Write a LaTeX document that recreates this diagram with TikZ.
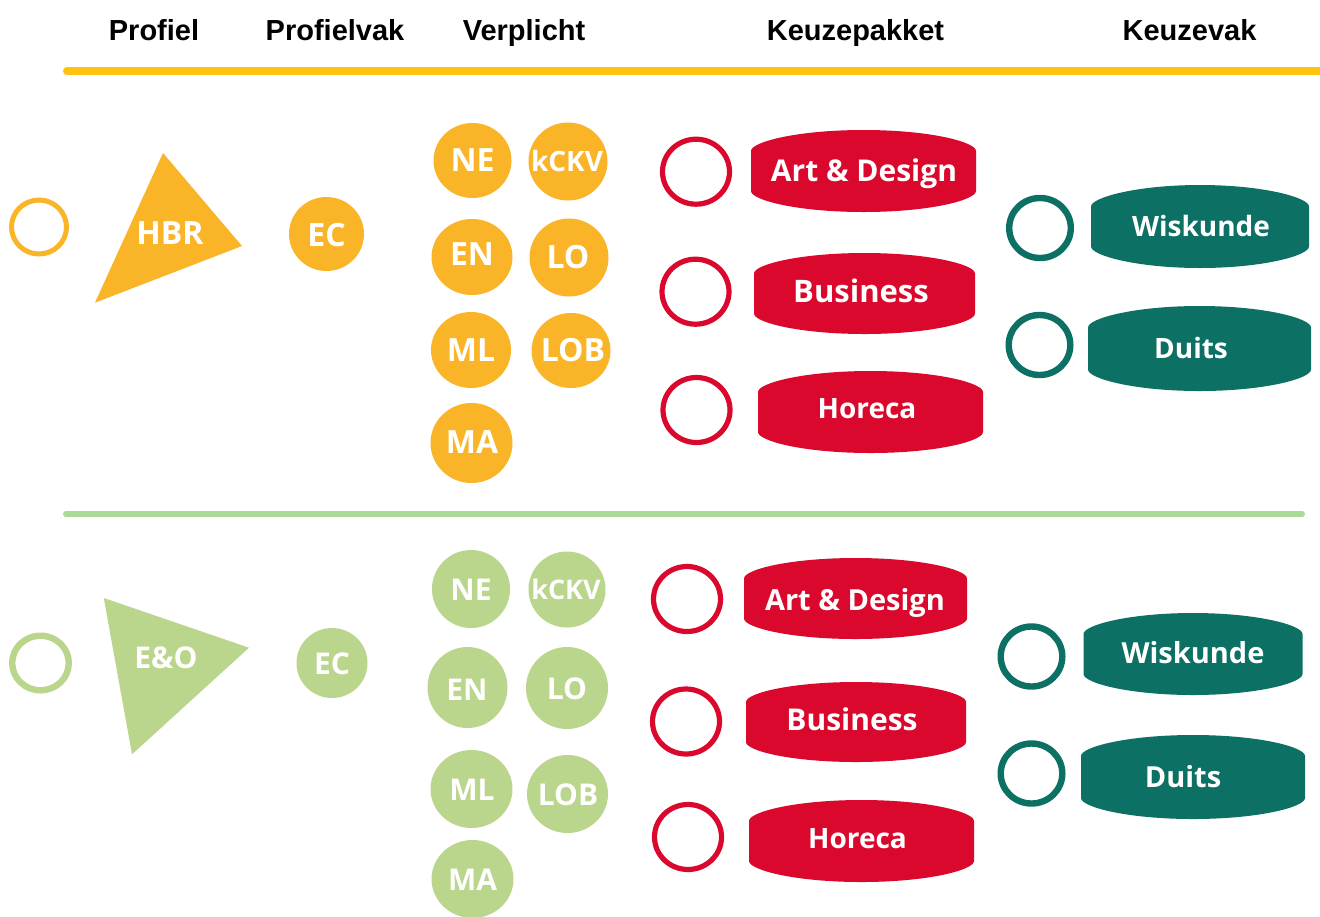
\documentclass[tikz,border=0pt]{standalone}
\usepackage{fontspec}
\setmainfont{Liberation Sans}
\newfontfamily\lblfont{Open Sans}
\usetikzlibrary{shapes.geometric}
\definecolor{goldline}{RGB}{255,194,14}
\definecolor{orng}{RGB}{250,180,40}
\definecolor{lgreen}{RGB}{186,213,140}
\definecolor{greenline}{RGB}{170,217,152}
\definecolor{rood}{RGB}{218,8,44}
\definecolor{tealx}{RGB}{12,112,100}
% barrel-shaped pill: color, cx, cy, left, right, half height at centre, half height of sides
\newcommand\pillshape[7]{%
  \fill[#1] (#4,#3+#7) -- (#4,#3-#7)
    .. controls (#4,#3-#7-9) and (#4+46,#3-#6) .. (#2,#3-#6)
    .. controls (#5-46,#3-#6) and (#5,#3-#7-9) .. (#5,#3-#7)
    -- (#5,#3+#7)
    .. controls (#5,#3+#7+9) and (#5-46,#3+#6) .. (#2,#3+#6)
    .. controls (#4+46,#3+#6) and (#4,#3+#7+9) .. (#4,#3+#7) -- cycle;}
\tikzset{
  head/.style={font=\bfseries\fontsize{14.5}{17}\selectfont, inner sep=0pt, text depth=0pt},
  lab/.style={text=white, inner sep=0pt, text depth=0pt, font=\lblfont\bfseries\fontsize{#1}{#1}\selectfont},
  lab/.default=16,
  vak/.style={ellipse, fill=#1, inner sep=0pt},
  ring/.style={ellipse, draw=#1, inner sep=0pt},
  redring/.style={ring=rood, line width=2.6pt, minimum width=33.5pt, minimum height=32.5pt},
  tealring/.style={ring=tealx, line width=3.2pt, minimum width=30.8pt, minimum height=30pt},
}
\begin{document}
\begin{tikzpicture}[x=0.5pt,y=-0.5pt]
\fill[white] (0,0) rectangle (1320,916);
\useasboundingbox (0,0) rectangle (1320,916);

% headers
\node[head] (h1) at (154,29.5) {Profiel};
\node[head] (h2) at (335,29.5) {Profielvak};
\node[head] (h3) at (524,29.5) {Verplicht};
\node[head] (h4) at (855.5,29.5) {Keuzepakket};
\node[head] (h5) at (1189.5,29.5) {Keuzevak};

% separator lines
\coordinate (ol1) at (67,71);
\coordinate (ol2) at (1330,71);
\draw[goldline, line width=4pt, line cap=round] (ol1) -- (ol2);
\coordinate (gl1) at (66,514);
\coordinate (gl2) at (1302,514);
\draw[greenline, line width=3pt, line cap=round] (gl1) -- (gl2);

% ===== top section (HBR) =====
\node[ring=orng, line width=2.5pt, minimum width=27.5pt, minimum height=27pt] (r-hbr) at (39,227) {};
\fill[orng] (163,153) -- (242,246) -- (95,302.7) -- cycle;
\node[lab=16] (t-hbr) at (170,233) {HBR};
\node[vak=orng, minimum width=37.5pt, minimum height=37pt] (t-ec) at (326.5,234) {};
\node[lab=16] (t-ec-l) at (326.5,234.5) {EC};

\node[vak=orng, minimum width=39pt, minimum height=37.5pt] (t-ne) at (472.5,160.5) {};
\node[vak=orng, minimum width=39.5pt, minimum height=39pt] (t-kckv) at (568,161.5) {};
\node[vak=orng, minimum width=40.5pt, minimum height=38pt] (t-en) at (472,257) {};
\node[vak=orng, minimum width=39.5pt, minimum height=39pt] (t-lo) at (569,257.5) {};
\node[vak=orng, minimum width=40pt, minimum height=38pt] (t-ml) at (471,350) {};
\node[vak=orng, minimum width=39.5pt, minimum height=37.5pt] (t-lob) at (571,350.5) {};
\node[vak=orng, minimum width=41pt, minimum height=40pt] (t-ma) at (471.5,443) {};
\node[lab=16] (t-ne-l) at (472.5,160) {NE};
\node[lab=14] (t-kckv-l) at (567,161) {kCKV};
\node[lab=16] (t-en-l) at (472,254) {EN};
\node[lab=16] (t-lo-l) at (568,257) {LO};
\node[lab=16] (t-ml-l) at (471,350) {ML};
\node[lab=16] (t-lob-l) at (573,350) {LOB};
\node[lab=16] (t-ma-l) at (472,442.5) {MA};

\node[redring] (t-r1) at (696,171.7) {};
\node[redring] (t-r2) at (695.5,291.7) {};
\node[redring] (t-r3) at (696.5,410) {};
\pillshape{rood}{863.5}{171}{751}{976}{41}{20}
\pillshape{rood}{864.5}{293.5}{754}{975}{40.5}{20}
\pillshape{rood}{870.5}{412}{758}{983}{41}{20}
\node[lab=15] (t-ad) at (864,170) {Art \& Design};
\node[lab=15.5] (t-bu) at (861,290.5) {Business};
\node[lab=14] (t-ho) at (867,408.5) {Horeca};

\node[tealring] (t-k1) at (1040,228) {};
\node[tealring] (t-k2) at (1039.5,345) {};
\pillshape{tealx}{1200}{226.5}{1091}{1309}{41.5}{20}
\pillshape{tealx}{1199.5}{348.5}{1088}{1311}{42.5}{21}
\node[lab=14] (t-wi) at (1201,226) {Wiskunde};
\node[lab=14] (t-du) at (1191,348) {Duits};

% ===== bottom section (E&O) =====
\node[ring=lgreen, line width=3.2pt, minimum width=28.3pt, minimum height=27.3pt] (r-eo) at (40.5,663) {};
\fill[lgreen] (103.8,598) -- (249,647.7) -- (132,754.3) -- cycle;
\node[lab=15] (b-eo) at (166,657.5) {E\&O};
\node[vak=lgreen, minimum width=35.5pt, minimum height=35pt] (b-ec) at (332,663) {};
\node[lab=15] (b-ec-l) at (332,663.5) {EC};

\node[vak=lgreen, minimum width=39pt, minimum height=39pt] (b-ne) at (471,589) {};
\node[vak=lgreen, minimum width=38.5pt, minimum height=38pt] (b-kckv) at (567,589.5) {};
\node[vak=lgreen, minimum width=40pt, minimum height=40.5pt] (b-en) at (467.5,687.5) {};
\node[vak=lgreen, minimum width=41pt, minimum height=41pt] (b-lo) at (567,688) {};
\node[vak=lgreen, minimum width=41pt, minimum height=39pt] (b-ml) at (471.5,789) {};
\node[vak=lgreen, minimum width=40.5pt, minimum height=39pt] (b-lob) at (567.5,794) {};
\node[vak=lgreen, minimum width=41pt, minimum height=39pt] (b-ma) at (472.5,879) {};
\node[lab=15] (b-ne-l) at (471,590) {NE};
\node[lab=13.5] (b-kckv-l) at (566,589.5) {kCKV};
\node[lab=15] (b-en-l) at (467,689.5) {EN};
\node[lab=15] (b-lo-l) at (567,688.5) {LO};
\node[lab=15] (b-ml-l) at (472,789.5) {ML};
\node[lab=15] (b-lob-l) at (568,795) {LOB};
\node[lab=15] (b-ma-l) at (472.5,879.5) {MA};

\node[redring] (b-r1) at (687,599) {};
\node[redring] (b-r2) at (686,721.5) {};
\node[redring] (b-r3) at (688,837) {};
\pillshape{rood}{855.5}{598.5}{744}{967}{40.5}{20}
\pillshape{rood}{856}{722}{746}{966}{40}{20}
\pillshape{rood}{861.5}{841}{749}{974}{41}{20}
\node[lab=14.5] (b-ad) at (855,599) {Art \& Design};
\node[lab=15] (b-bu) at (852,719.5) {Business};
\node[lab=14] (b-ho) at (857.5,838) {Horeca};

\node[tealring] (b-k1) at (1031.5,656.5) {};
\node[tealring] (b-k2) at (1031.5,773.5) {};
\pillshape{tealx}{1193}{654}{1083.5}{1302.5}{41}{20}
\pillshape{tealx}{1193}{777}{1081}{1305}{42}{21}
\node[lab=14.5] (b-wi) at (1193,652.5) {Wiskunde};
\node[lab=14.5] (b-du) at (1183,776.5) {Duits};
\end{tikzpicture}
\end{document}
